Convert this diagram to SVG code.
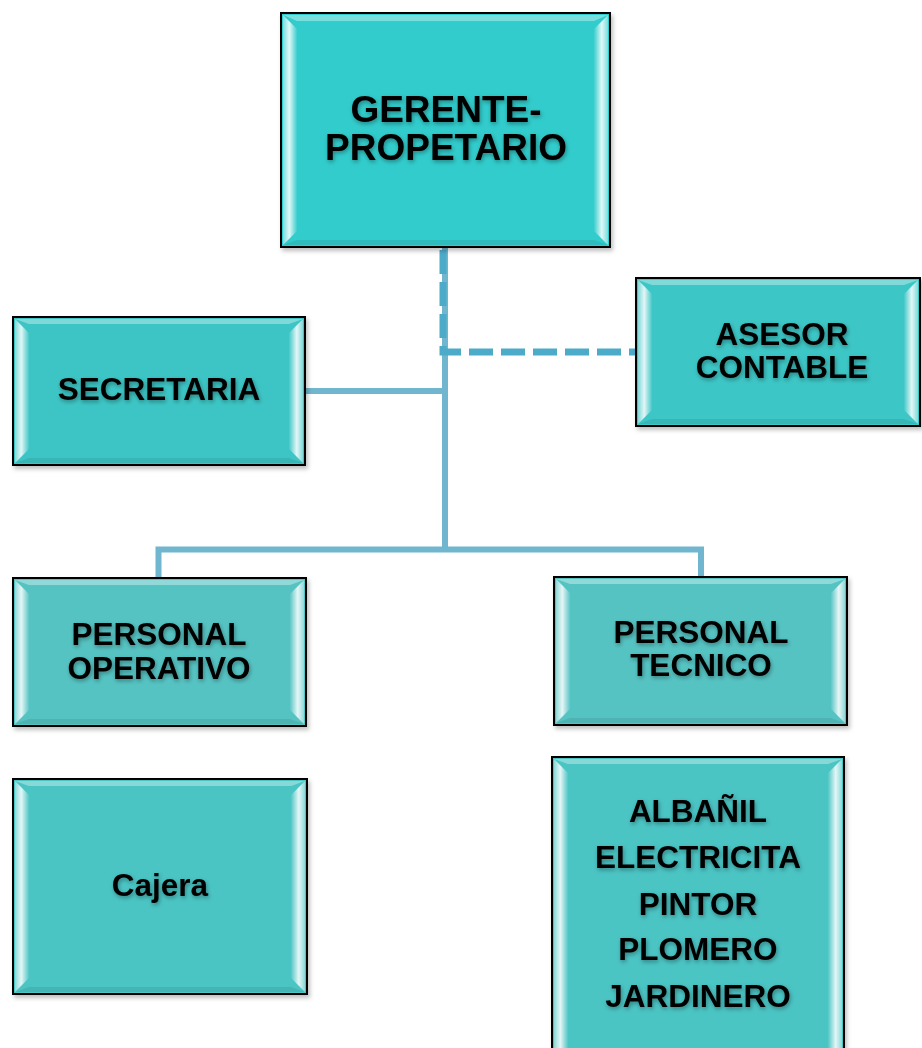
<svg xmlns="http://www.w3.org/2000/svg" width="922" height="1048" viewBox="0 0 922 1048">
<style>
.box{stroke:#000;stroke-width:2;filter:url(#bshadow)}
.lb{fill:url(#gl)}
.rb{fill:url(#gr)}
.tb{fill:#ffffff;fill-opacity:0.35}
.bb{fill:#000000;fill-opacity:0.08}
.t{font-family:"Liberation Sans",Arial,sans-serif;font-weight:bold;fill:#000;text-anchor:middle;filter:url(#tshadow)}
.solid{stroke:#6FB6CE;stroke-width:6;fill:none}
.dash{stroke:#4BABC8;stroke-width:7;fill:none;stroke-dasharray:24 8}
</style>
<defs>
<linearGradient id="gl" x1="0" y1="0" x2="1" y2="0">
<stop offset="0" stop-color="#fff" stop-opacity="0.35"/>
<stop offset="0.45" stop-color="#fff" stop-opacity="0.85"/>
<stop offset="1" stop-color="#fff" stop-opacity="0.05"/>
</linearGradient>
<linearGradient id="gr" x1="1" y1="0" x2="0" y2="0">
<stop offset="0" stop-color="#fff" stop-opacity="0.35"/>
<stop offset="0.45" stop-color="#fff" stop-opacity="0.85"/>
<stop offset="1" stop-color="#fff" stop-opacity="0.05"/>
</linearGradient>
<filter id="bshadow" x="-5%" y="-5%" width="115%" height="115%">
<feDropShadow dx="2" dy="3" stdDeviation="2" flood-color="#000" flood-opacity="0.25"/>
</filter>
<filter id="tshadow" x="-10%" y="-20%" width="120%" height="150%">
<feDropShadow dx="1" dy="2" stdDeviation="2" flood-color="#000" flood-opacity="0.35"/>
</filter>
</defs>

<g id="connectors">
<path class="solid" d="M445 247 V552"/>
<path class="solid" d="M305 391 H445"/>
<path class="solid" d="M158.5 578 V549.5 H701 V577"/>
<path class="dash" d="M443 250 V352 H636"/>
</g>

<g id="gerente">
<rect class="box" x="281" y="13" width="329" height="234" fill="#33CCCC"/>
<polygon class="tb" points="283,15 608,15 594,21 297,21"/>
<polygon class="bb" points="283,245 608,245 594,240 297,240"/>
<polygon class="lb" points="283,15 297,29 297,231 283,245"/>
<polygon class="rb" points="608,15 594,29 594,231 608,245"/>
<text class="t" x="446" y="122" font-size="37">GERENTE-</text>
<text class="t" x="446" y="160" font-size="37">PROPETARIO</text>
</g>

<g id="asesor">
<rect class="box" x="636" y="278" width="284" height="148" fill="#3CC6C6"/>
<polygon class="tb" points="638,280 918,280 904,285 652,285"/>
<polygon class="bb" points="638,424 918,424 904,419 652,419"/>
<polygon class="lb" points="638,280 652,294 652,410 638,424"/>
<polygon class="rb" points="918,280 904,294 904,410 918,424"/>
<text class="t" x="782" y="345" font-size="31.5">ASESOR</text>
<text class="t" x="782" y="378" font-size="31.5">CONTABLE</text>
</g>

<g id="secretaria">
<rect class="box" x="13" y="317" width="292" height="148" fill="#3DC5C5"/>
<polygon class="tb" points="15,319 303,319 289,324 29,324"/>
<polygon class="bb" points="15,463 303,463 289,458 29,458"/>
<polygon class="lb" points="15,319 29,333 29,449 15,463"/>
<polygon class="rb" points="303,319 289,333 289,449 303,463"/>
<text class="t" x="159" y="400" font-size="31.5">SECRETARIA</text>
</g>

<g id="personal-operativo">
<rect class="box" x="13" y="578" width="293" height="148" fill="#56C3C3"/>
<polygon class="tb" points="15,580 304,580 290,585 29,585"/>
<polygon class="bb" points="15,724 304,724 290,719 29,719"/>
<polygon class="lb" points="15,580 29,594 29,710 15,724"/>
<polygon class="rb" points="304,580 290,594 290,710 304,724"/>
<text class="t" x="159" y="645" font-size="31.5">PERSONAL</text>
<text class="t" x="159" y="679" font-size="31.5">OPERATIVO</text>
</g>

<g id="personal-tecnico">
<rect class="box" x="554" y="577" width="293" height="148" fill="#57C3C3"/>
<polygon class="tb" points="556,579 845,579 831,584 570,584"/>
<polygon class="bb" points="556,723 845,723 831,718 570,718"/>
<polygon class="lb" points="556,579 570,593 570,709 556,723"/>
<polygon class="rb" points="845,579 831,593 831,709 845,723"/>
<text class="t" x="701" y="643" font-size="31.5">PERSONAL</text>
<text class="t" x="701" y="676" font-size="31.5">TECNICO</text>
</g>

<g id="cajera">
<rect class="box" x="13" y="779" width="294" height="215" fill="#4BC4C4"/>
<polygon class="tb" points="15,781 305,781 291,786 29,786"/>
<polygon class="bb" points="15,992 305,992 291,987 29,987"/>
<polygon class="lb" points="15,781 29,795 29,978 15,992"/>
<polygon class="rb" points="305,781 291,795 291,978 305,992"/>
<text class="t" x="160" y="896" font-size="31.5">Cajera</text>
</g>

<g id="oficios">
<rect class="box" x="552" y="757" width="292" height="310" fill="#4BC4C4"/>
<polygon class="tb" points="554,759 842,759 828,764 568,764"/>
<polygon class="lb" points="554,759 568,773 568,1065 554,1065"/>
<polygon class="rb" points="842,759 828,773 828,1065 842,1065"/>
<text class="t" x="698" y="822" font-size="31.5">ALBAÑIL</text>
<text class="t" x="698" y="868" font-size="31.5">ELECTRICITA</text>
<text class="t" x="698" y="915" font-size="31.5">PINTOR</text>
<text class="t" x="698" y="960" font-size="31.5">PLOMERO</text>
<text class="t" x="698" y="1007" font-size="31.5">JARDINERO</text>
</g>
</svg>
